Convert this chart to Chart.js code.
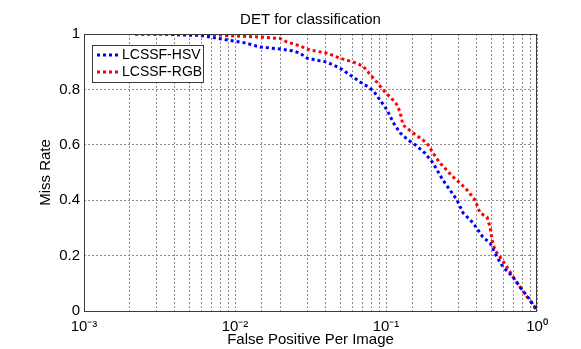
<!DOCTYPE html>
<html>
<head>
<meta charset="utf-8">
<title>DET for classification</title>
<script src="https://cdn.jsdelivr.net/npm/chart.js@4.4.1/dist/chart.umd.min.js"></script>
<style>
  html, body { margin: 0; padding: 0; background: #fff; }
  canvas { display: block; }
</style>
</head>
<body>
<canvas id="det-chart" width="581" height="349"></canvas>
<script>
// values
const hsvFppi = [0.00218, 0.00319, 0.00467, 0.00586, 0.00737, 0.00927, 0.01165, 0.01465, 0.01986, 0.0242,
  0.0269, 0.0300, 0.0366, 0.0406, 0.0495, 0.0604, 0.0673, 0.0783, 0.0845, 0.0912,
  0.1016, 0.1112, 0.1239, 0.140, 0.160, 0.181, 0.205, 0.238, 0.265, 0.295,
  0.324, 0.377, 0.438, 0.489, 0.543, 0.596, 0.693, 0.771, 0.900, 1.0];
const hsvMiss = [1.0, 1.0, 0.996, 0.995, 0.986, 0.977, 0.968, 0.953, 0.946, 0.939,
  0.931, 0.913, 0.903, 0.899, 0.877, 0.845, 0.827, 0.805, 0.787, 0.762,
  0.726, 0.682, 0.643, 0.617, 0.596, 0.570, 0.534, 0.473, 0.437, 0.401,
  0.354, 0.318, 0.267, 0.245, 0.195, 0.159, 0.123, 0.087, 0.040, 0];

const rgbFppi = [0.00218, 0.00586, 0.0097, 0.01465, 0.01986, 0.0221, 0.0269, 0.0314, 0.0406, 0.0495,
  0.0604, 0.0705, 0.0760, 0.0845, 0.0984, 0.1112, 0.1183, 0.1239, 0.1298, 0.151,
  0.187, 0.205, 0.228, 0.278, 0.309, 0.344, 0.388, 0.420, 0.467, 0.489,
  0.504, 0.527, 0.569, 0.633, 0.693, 0.771, 0.859, 0.970, 1.0];
const rgbMiss = [1.0, 1.0, 0.993, 0.989, 0.984, 0.971, 0.957, 0.942, 0.931, 0.913,
  0.899, 0.884, 0.863, 0.834, 0.791, 0.762, 0.744, 0.718, 0.671, 0.643,
  0.606, 0.570, 0.534, 0.484, 0.462, 0.437, 0.401, 0.354, 0.339, 0.303,
  0.256, 0.220, 0.195, 0.159, 0.123, 0.087, 0.051, 0.014, 0];

const seriesNames = ['LCSSF-HSV', 'LCSSF-RGB'];
const seriesColors = ['#0000ff', '#ff0000'];
const xTickLabels = ['10⁻³', '10⁻²', '10⁻¹', '10⁰'];

Chart.defaults.font.family = '"Liberation Sans", Arial, sans-serif';
Chart.defaults.color = '#000';

function toPoints(xs, ys) {
  return xs.map((x, i) => ({ x: x, y: ys[i] }));
}

// MATLAB style box round the axes
const axesBox = {
  id: 'axesBox',
  afterDraw(chart) {
    const { ctx, chartArea: a } = chart;
    ctx.save();
    ctx.strokeStyle = '#3a3a3a';
    ctx.lineWidth = 1;
    ctx.strokeRect(a.left + 0.5, a.top + 0.5, a.right - a.left - 1, a.bottom - a.top);
    ctx.restore();
  }
};

// legend box in the upper left corner of the plot
const boxLegend = {
  id: 'boxLegend',
  afterDraw(chart) {
    const { ctx, chartArea: a } = chart;
    const left = a.left + 8, top = a.top + 11, w = 111, h = 37;
    ctx.save();
    ctx.fillStyle = '#fff';
    ctx.fillRect(left, top, w, h);
    ctx.strokeStyle = '#3a3a3a';
    ctx.lineWidth = 1;
    ctx.strokeRect(left + 0.5, top + 0.5, w, h);
    ctx.font = '14px "Liberation Sans", Arial, sans-serif';
    ctx.textBaseline = 'middle';
    chart.data.datasets.forEach((ds, i) => {
      const y = top + 10 + i * 17;
      ctx.strokeStyle = ds.borderColor;
      ctx.lineWidth = 3;
      ctx.setLineDash([3, 3]);
      ctx.beginPath();
      ctx.moveTo(left + 5, y);
      ctx.lineTo(left + 26, y);
      ctx.stroke();
      ctx.setLineDash([]);
      ctx.fillStyle = '#000';
      ctx.fillText(ds.label, left + 30, y);
    });
    ctx.restore();
  }
};

const ctx = document.getElementById('det-chart').getContext('2d');

const chart = new Chart(ctx, {
  type: 'line',
  data: {
    datasets: [{
      label: seriesNames[0],
      data: toPoints(hsvFppi, hsvMiss),
      borderColor: seriesColors[0],
      borderWidth: 3,
      borderDash: [3, 3],
      pointRadius: 0,
      tension: 0
    }, {
      label: seriesNames[1],
      data: toPoints(rgbFppi, rgbMiss),
      borderColor: seriesColors[1],
      borderWidth: 3,
      borderDash: [3, 3],
      pointRadius: 0,
      tension: 0
    }]
  },
  options: {
    responsive: false,
    animation: false,
    layout: { padding: { left: 0, right: 44, top: 0, bottom: 0 } },
    plugins: {
      legend: { display: false },
      tooltip: { enabled: false },
      title: {
        display: true,
        fullSize: false,
        text: 'DET for classification',
        font: { size: 15, weight: 'normal' },
        color: '#000',
        padding: { top: 11, bottom: 5 }
      }
    },
    scales: {
      x: {
        type: 'logarithmic',
        min: 0.001,
        max: 1,
        afterFit: (s) => { s.height = 38; },
        grid: { color: '#8c8c8c', drawTicks: false },
        border: { display: false, dash: [2, 2] },
        ticks: {
          autoSkip: false,
          maxRotation: 0,
          padding: 7,
          font: { size: 15 },
          color: '#000',
          callback: function(v) {
            const e = Math.log10(v);
            if (Math.abs(e - Math.round(e)) > 1e-6) return '';
            return xTickLabels[Math.round(e) + 3];
          }
        },
        title: {
          display: true,
          text: 'False Positive Per Image',
          font: { size: 15 },
          color: '#000',
          padding: 0
        }
      },
      y: {
        min: 0,
        max: 1,
        afterFit: (s) => { s.width = 84; },
        grid: { color: '#8c8c8c', drawTicks: false },
        border: { display: false, dash: [2, 2] },
        ticks: {
          stepSize: 0.2,
          padding: 4,
          font: { size: 15 },
          color: '#000',
          callback: (v) => String(Math.round(v * 10) / 10)
        },
        title: {
          display: true,
          text: 'Miss Rate',
          font: { size: 15 },
          color: '#000',
          padding: { top: 37, bottom: 0 }
        }
      }
    }
  },
  plugins: [axesBox, boxLegend]
});
</script>
</body>
</html>
